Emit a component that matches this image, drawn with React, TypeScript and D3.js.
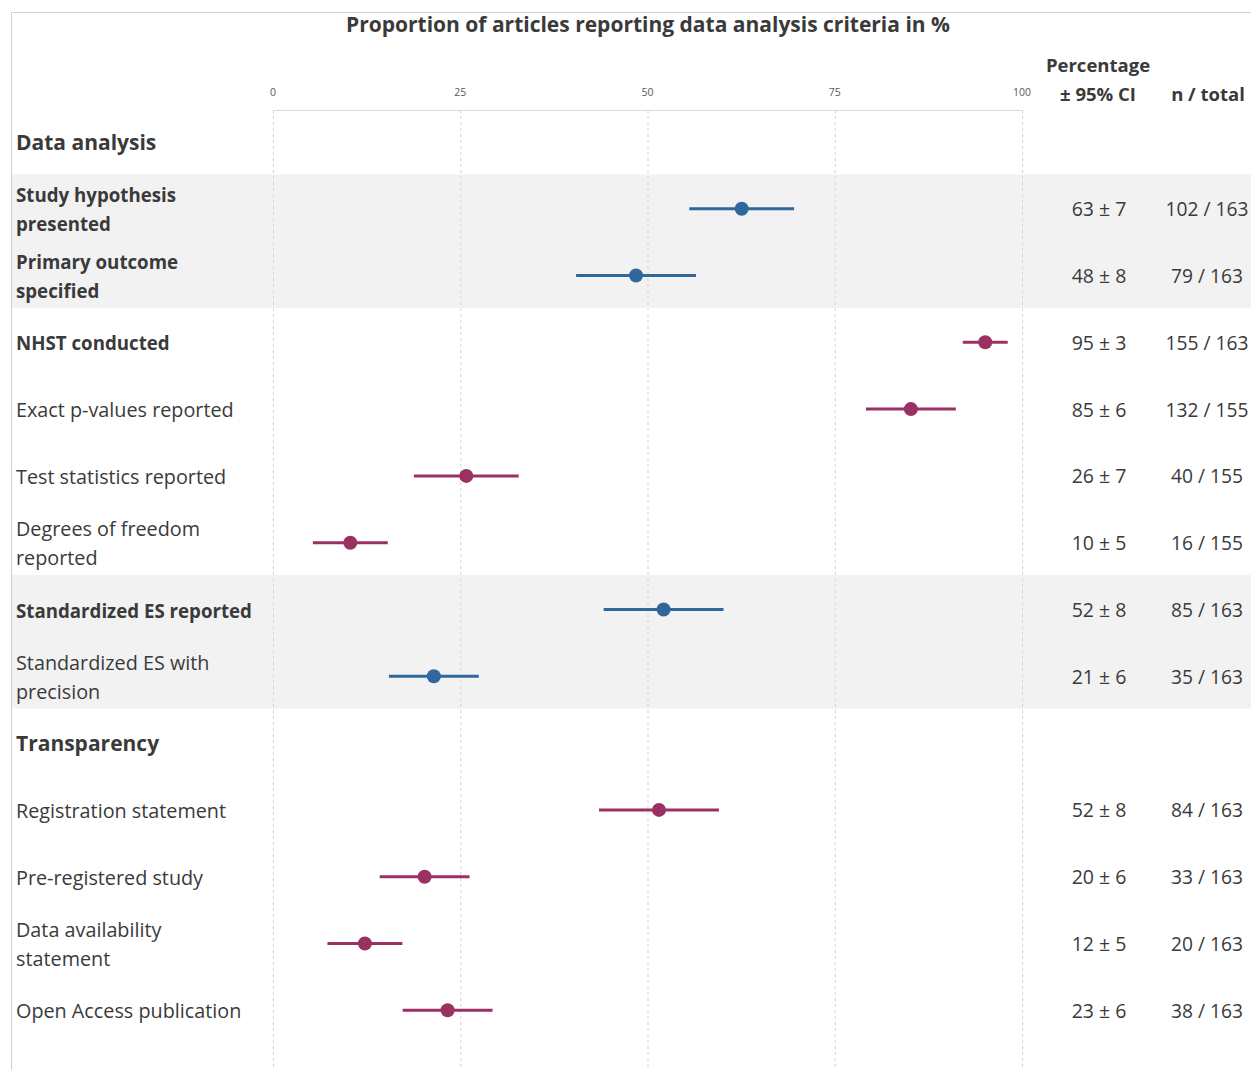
import React from 'react'
import * as d3 from 'd3'

// rows in order; headers have no values
const rowLabels = [
  'Data analysis',
  'Study hypothesis presented',
  'Primary outcome specified',
  'NHST conducted',
  'Exact p-values reported',
  'Test statistics reported',
  'Degrees of freedom reported',
  'Standardized ES reported',
  'Standardized ES with precision',
  'Transparency',
  'Registration statement',
  'Pre-registered study',
  'Data availability statement',
  'Open Access publication',
]
const headerRows = ['Data analysis', 'Transparency']
const boldRows = ['Study hypothesis presented', 'Primary outcome specified', 'NHST conducted', 'Standardized ES reported']
const blueRows = ['Study hypothesis presented', 'Primary outcome specified', 'Standardized ES reported', 'Standardized ES with precision']
const shadedGroups = [
  ['Study hypothesis presented', 'Primary outcome specified'],
  ['Standardized ES reported', 'Standardized ES with precision'],
]
// wrapped labels, as in the picture
const labelLines: Record<string, string[]> = {
  'Study hypothesis presented': ['Study hypothesis', 'presented'],
  'Primary outcome specified': ['Primary outcome', 'specified'],
  'Degrees of freedom reported': ['Degrees of freedom', 'reported'],
  'Standardized ES with precision': ['Standardized ES with', 'precision'],
  'Data availability statement': ['Data availability', 'statement'],
}

const criteria = [
  'Study hypothesis presented',
  'Primary outcome specified',
  'NHST conducted',
  'Exact p-values reported',
  'Test statistics reported',
  'Degrees of freedom reported',
  'Standardized ES reported',
  'Standardized ES with precision',
  'Registration statement',
  'Pre-registered study',
  'Data availability statement',
  'Open Access publication',
]
const nReported = [102, 79, 155, 132, 40, 16, 85, 35, 84, 33, 20, 38]
const nTotal = [163, 163, 163, 155, 155, 155, 163, 163, 163, 163, 163, 163]
const ciHalf = [7, 8, 3, 6, 7, 5, 8, 6, 8, 6, 5, 6]
const xTicks = [0, 25, 50, 75, 100]

const W = 1251
const H = 1070
const BLUE = '#30679c'
const MAGENTA = '#9b3063'
const TEXT = '#3a3a3a'
const FONT = '"Open Sans", "DejaVu Sans", sans-serif'

export default function App() {
  const x = d3.scaleLinear().domain([0, 100]).range([273, 1022])
  const y = d3.scaleBand<string>().domain(rowLabels).range([108.5, 108.5 + 14 * 66.8])
  const bw = y.bandwidth()
  const cy = (r: string) => (y(r) || 0) + bw / 2

  const rows = criteria.map((c, i) => {
    const pct = (nReported[i] / nTotal[i]) * 100
    return { c, pct, ci: ciHalf[i], n: nReported[i], total: nTotal[i] }
  })

  return (
    <svg width={W} height={H} style={{ position: 'absolute', left: 0, top: 0, background: '#fff' }} fontFamily={FONT}>
      {/* outer frame */}
      <line x1={11.5} y1={12.5} x2={W} y2={12.5} stroke="#d0d0d0" />
      <line x1={11.5} y1={12.5} x2={11.5} y2={H} stroke="#d0d0d0" />

      {/* shaded bands */}
      {shadedGroups.map((g, i) => (
        <rect key={i} x={12} y={(y(g[0]) || 0) - 1} width={W - 12} height={bw * g.length} fill="#f2f2f2" />
      ))}

      {/* plot frame top + gridlines */}
      <line x1={x(0)} y1={110.5} x2={x(100)} y2={110.5} stroke="#dcdcdc" />
      {xTicks.map(t => (
        <g key={t}>
          <line x1={x(t) + 0.5} y1={110} x2={x(t) + 0.5} y2={H} stroke="#d4d4d4" strokeDasharray="3,3" />
          <text x={x(t)} y={96} textAnchor="middle" fontSize={10.5} fill="#595959">{t}</text>
        </g>
      ))}

      {/* title */}
      <text x={648} y={32} textAnchor="middle" fontSize={21} fontWeight={700} fill={TEXT}>
        Proportion of articles reporting data analysis criteria in %
      </text>
      <text x={1098} y={72} textAnchor="middle" fontSize={18.5} fontWeight={700} fill={TEXT}>Percentage</text>
      <text x={1098} y={101} textAnchor="middle" fontSize={18.5} fontWeight={700} fill={TEXT}>± 95% CI</text>
      <text x={1208} y={101} textAnchor="middle" fontSize={18.5} fontWeight={700} fill={TEXT}>n / total</text>

      {/* row labels */}
      {rowLabels.map(r => {
        const isHeader = headerRows.includes(r)
        const lines = labelLines[r] || [r]
        const bold = isHeader || boldRows.includes(r)
        const fs = isHeader ? 21 : bold ? 18.7 : 19.8
        return (
          <text key={r} x={16} y={cy(r)} fontSize={fs} fontWeight={bold ? 700 : 400} fill={TEXT} dominantBaseline="central">
            {lines.map((l, i) => (
              <tspan key={i} x={16} y={cy(r) + (i - (lines.length - 1) / 2) * 29}>{l}</tspan>
            ))}
          </text>
        )
      })}

      {/* estimates */}
      {rows.map(d => {
        const col = blueRows.includes(d.c) ? BLUE : MAGENTA
        const yy = cy(d.c)
        return (
          <g key={d.c}>
            <line x1={x(d.pct - d.ci)} x2={x(d.pct + d.ci)} y1={yy} y2={yy} stroke={col} strokeWidth={3} />
            <circle cx={x(d.pct)} cy={yy} r={7} fill={col} />
            <text x={1099} y={yy} textAnchor="middle" dominantBaseline="central" fontSize={19.5} fill={TEXT}>
              {`${Math.round(d.pct)} ± ${d.ci}`}
            </text>
            <text x={1207} y={yy} textAnchor="middle" dominantBaseline="central" fontSize={19.2} fill={TEXT}>
              {`${d.n} / ${d.total}`}
            </text>
          </g>
        )
      })}
    </svg>
  )
}
